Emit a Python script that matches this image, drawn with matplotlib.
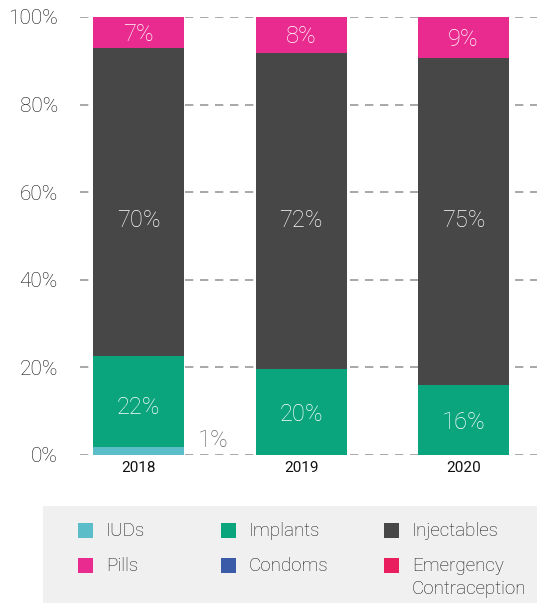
import matplotlib.pyplot as plt
from matplotlib.patches import Rectangle
import numpy as np

plt.rcParams['font.family'] = ['Roboto', 'DejaVu Sans']

years = ['2018', '2019', '2020']
methods = ['IUDs', 'Implants', 'Injectables', 'Pills', 'Condoms', 'Emergency\nContraception']
colors = ['#5bbdc8', '#0ba57d', '#474747', '#e92a8e', '#3a5ba8', '#e81e5e']

iuds = [1.8, 0, 0]
implants = [20.8, 19.6, 16.0]
injectables = [70.3, 72.2, 74.6]
pills = [7.1, 8.2, 9.4]
condoms = [0, 0, 0]
emergency = [0, 0, 0]

labels_implants = ['22%', '20%', '16%']
labels_injectables = ['70%', '72%', '75%']
labels_pills = ['7%', '8%', '9%']

series = [iuds, implants, injectables, pills, condoms, emergency]

W, H = 537, 603
fig = plt.figure(figsize=(W/100, H/100), dpi=100)
ax = fig.add_axes([80/W, 148/H, 457/W, 438/H])

x = np.arange(len(years))
bottom = np.zeros(len(years))
for vals, c in zip(series, colors):
    ax.bar(x, vals, width=0.56, bottom=bottom, color=c, zorder=2)
    bottom += np.array(vals)

# value labels
lab = dict(color='white', ha='center', va='center', fontsize=17, fontweight='light')
base = np.array(iuds)
for i in range(len(years)):
    ax.text(x[i], (base[i] + implants[i]) / 2 - 0.5, labels_implants[i], **lab)
    # injectables labels sit at roughly the same height in every bar
    ax.text(x[i], 53.6, labels_injectables[i], **lab)
    ax.text(x[i], base[i] + implants[i] + injectables[i] + pills[i] / 2 - 0.4,
            labels_pills[i], **lab)
ax.text(x[0] + 0.46, 3.2, '1%', color='#666666', ha='center', va='center',
        fontsize=17, fontweight='light')

ax.set_xlim(-0.36, 2.452)
ax.set_ylim(0, 100)
ax.set_xticks(x)
ax.set_xticklabels(years, fontsize=11, color='#111111')
ax.set_yticks(np.arange(0, 101, 20))
ax.set_yticklabels([f'{v}%' for v in range(0, 101, 20)], fontsize=15,
                   color='#111111', fontweight='light')
ax.tick_params(length=0, pad=16)
ax.tick_params(axis='x', pad=4)
ax.grid(axis='y', color='#999999', linestyle=(0, (5, 4)), linewidth=1.2, zorder=0)
for s in ax.spines.values():
    s.set_visible(False)

# legend box, drawn by hand in pixel coords
fig.patches.append(Rectangle((43/W, 0), 494/W, 97/H, transform=fig.transFigure,
                             facecolor='#f0f0f0', edgecolor='none', zorder=0))
col_x = [78, 221, 384]
row_y = [530, 565]
for k, (m, c) in enumerate(zip(methods, colors)):
    cx, cy = col_x[k % 3], row_y[k // 3]
    fig.patches.append(Rectangle((cx/W, 1 - (cy + 7.5)/H), 15/W, 15/H,
                                 transform=fig.transFigure, facecolor=c,
                                 edgecolor='none', zorder=1))
    for j, line in enumerate(m.split('\n')):
        fig.text((cx + 28)/W, 1 - (cy + 6 + 23 * j)/H, line, color='#1a1a1a',
                 fontsize=13.5, fontweight='light', ha='left', va='baseline')

fig.savefig('out.png', dpi=100)
